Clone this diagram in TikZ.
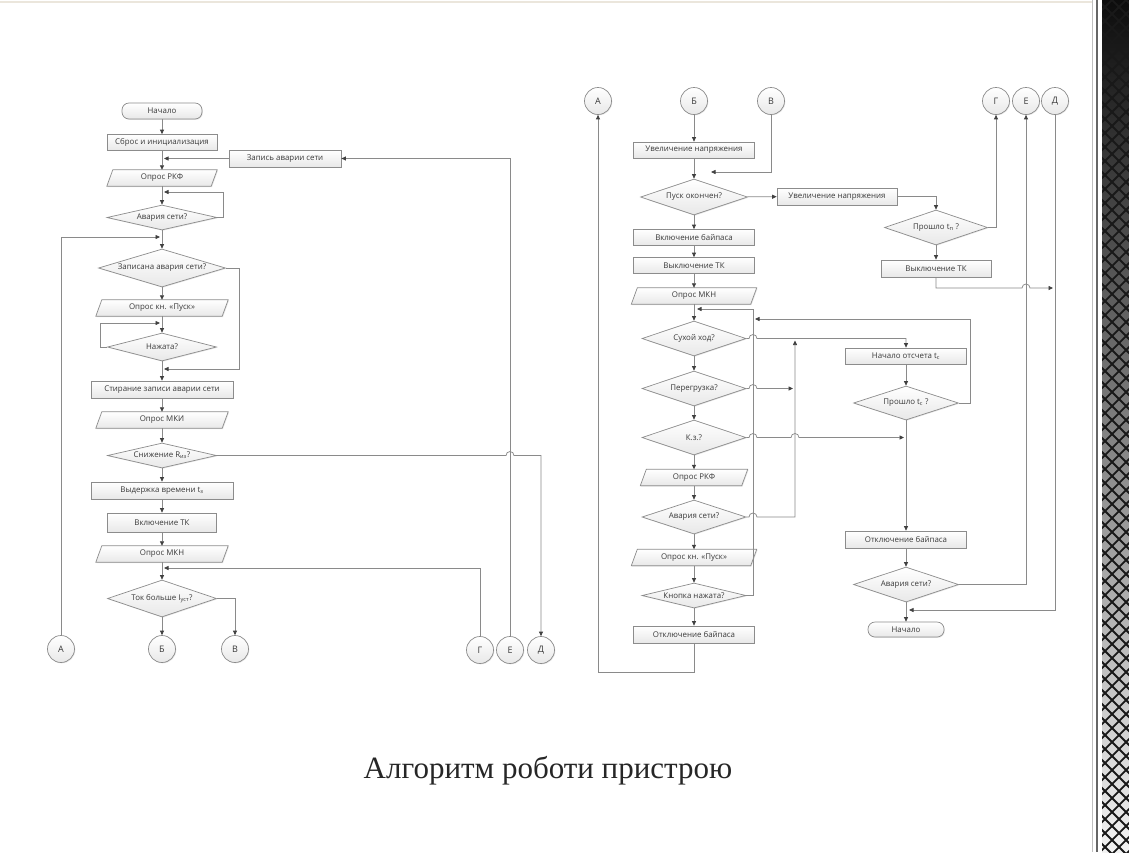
\documentclass[tikz,border=0pt]{standalone}
\usepackage{fontspec}
\setmainfont{Open Sans}
\newfontfamily\titlefont{Liberation Serif}
\usetikzlibrary{arrows.meta,shapes.geometric,shadows,calc}
\definecolor{lnc}{HTML}{8A8A8A}
\definecolor{txc}{HTML}{3A3A3A}
\definecolor{bdc}{HTML}{8C8C8C}
\newcommand\boxfont{\fontsize{7.9}{9}\selectfont}
\tikzset{
  base/.style={draw=bdc, line width=0.7pt, top color=white, bottom color=black!9, text=txc, font=\boxfont, inner sep=0pt,
    drop shadow={shadow xshift=0.8pt,shadow yshift=-0.8pt,opacity=0.2}},
  procbox/.style={base, rectangle},
  termbox/.style={base, rectangle, rounded corners=7pt},
  decbox/.style={base, diamond},
  circ/.style={base, circle, minimum size=27pt, font=\fontsize{9}{10}\selectfont},
  lnk/.style={draw=lnc, line width=0.75pt},
  arr/.style={lnk, -{Triangle[length=4.5pt,width=4pt,color=black!75]}},
}
\newcommand\ioshape[5]{%
  \path (#2,#3) node[minimum width=#4, minimum height=16, inner sep=0pt, draw=none] (#1) {};
  \draw[base] ([xshift=3]#1.north west) -- ([xshift=3]#1.north east) -- ([xshift=-3]#1.south east) -- ([xshift=-3]#1.south west) -- cycle;
  \node[text=txc, font=\boxfont, inner sep=0pt] (#1t) at (#1) {#5};
}
\newcommand\mb[1]{\makebox[0pt]{#1}}
\begin{document}
\begin{tikzpicture}[x=1pt,y=-1pt]
\useasboundingbox (0,0) rectangle (1129,852);
\fill[white] (0,0) rectangle (1129,852);
\draw[color={rgb,255:red,235;green,230;blue,220}, line width=1.5] (0,2) -- (1092,2);
% right decorative strip
\fill[black!25] (1092,0) rectangle (1093.3,852);
\fill[black!60] (1095.5,0) rectangle (1098,852);
\begin{scope}
\clip (1102,0) rectangle (1129,852);
\shade[top color=black!95, middle color=black!70, bottom color=black!5] (1102,0) rectangle (1129,852);
\foreach \k in {-4,...,64} {
  \draw[black!90, line width=1.8] (1098,\k*14) -- ++(36,36);
  \draw[black!90, line width=1.8] (1098,\k*14) -- ++(36,-36);
}
\end{scope}

% ================= LEFT CHART =================
\node[termbox, minimum width=80, minimum height=16] (L0) at (162,111) {\mb{Начало}};
\node[procbox, minimum width=110, minimum height=16] (L1) at (162,142.5) {\mb{Сброс и инициализация}};
\node[procbox, minimum width=112, minimum height=17] (Lz) at (285,158.5) {\mb{Запись аварии сети}};
\ioshape{L2}{162}{178}{104}{Опрос РКФ}
\node[decbox, minimum width=110, minimum height=25] (L3) at (162,217.5) {\mb{Авария сети?}};
\node[decbox, minimum width=127, minimum height=38] (L4) at (162,268) {\mb{Записана авария сети?}};
\ioshape{L5}{162}{308}{126}{Опрос кн. «Пуск»}
\node[decbox, minimum width=109, minimum height=28] (L6) at (162,347) {\mb{Нажата?}};
\node[procbox, minimum width=142, minimum height=17] (L7) at (162,389.5) {\mb{Стирание записи аварии сети}};
\ioshape{L8}{162}{420}{126}{Опрос МКИ}
\node[decbox, minimum width=109, minimum height=25] (L9) at (162,455.5) {\mb{Снижение R\textsubscript{из}?}};
\node[procbox, minimum width=142, minimum height=17] (L10) at (162,490.5) {\mb{Выдержка времени t\textsubscript{з}}};
\node[procbox, minimum width=109, minimum height=19] (L11) at (162,522.5) {\mb{Включение ТК}};
\ioshape{L12}{162}{554}{126}{Опрос МКН}
\node[decbox, minimum width=109, minimum height=37] (L13) at (162,598.5) {\mb{Ток больше I\textsubscript{уст}?}};
\node[circ] (cA) at (61,649) {А};
\node[circ] (cB) at (162,649) {Б};
\node[circ] (cV) at (235,649) {В};
\node[circ] (cG) at (480,650) {Г};
\node[circ] (cE) at (510,650) {Е};
\node[circ] (cD) at (541,650) {Д};

\coordinate (jz) at (164,158.5);
\coordinate (j3) at (164,192);
\coordinate (jA) at (160,237);
\coordinate (j4) at (164,369);
\coordinate (j6) at (160,323);
\coordinate (jG) at (164,568);

\draw[arr] (L0) -- (L1);
\draw[arr] (L1) -- (L2);
\draw[arr] (L2) -- (L3);
\draw[arr] (L3) -- (L4);
\draw[arr] (L4) -- (L5);
\draw[arr] (L5) -- (L6);
\draw[arr] (L6) -- (L7);
\draw[arr] (L7) -- (L8);
\draw[arr] (L8) -- (L9);
\draw[arr] (L9) -- (L10);
\draw[arr] (L10) -- (L11);
\draw[arr] (L11) -- (L12);
\draw[arr] (L12) -- (L13);
\draw[arr] (L13) -- (cB);
\draw[arr] (L13.east) -| (cV.north);
\draw[arr] (Lz.west) -- (jz);
\draw[arr] (cE.north) |- (Lz.east);
\draw[arr] (L3.east) -- ++(6,0) |- (j3);
\draw[arr] (cA.north) |- (jA);
\draw[arr] (L4.east) -- ++(14,0) |- (j4);
\draw[arr] (L6.west) -- ++(-7,0) |- (j6);
\draw[arr] (L9.east) -- (506,455.5) arc[start angle=180,end angle=360,radius=4] -| (cD.north);
\draw[arr] (cG.north) |- (jG);

% ================= RIGHT CHART =================
\node[circ] (rA) at (598,101) {А};
\node[circ] (rB) at (694,101) {Б};
\node[circ] (rV) at (771,101) {В};
\node[circ] (rG) at (996,101) {Г};
\node[circ] (rE) at (1026,101) {Е};
\node[circ] (rD) at (1055,101) {Д};

\node[procbox, minimum width=121, minimum height=16] (R1) at (694,150) {\mb{Увеличение напряжения}};
\node[decbox, minimum width=107, minimum height=36] (R2) at (694,197) {\mb{Пуск окончен?}};
\node[procbox, minimum width=120, minimum height=17] (R3) at (837,196.5) {\mb{Увеличение напряжения}};
\node[decbox, minimum width=103, minimum height=35] (R4) at (936,227.5) {\mb{Прошло t\textsubscript{п} ?}};
\node[procbox, minimum width=110, minimum height=17] (R5) at (936,268.5) {\mb{Выключение ТК}};
\node[procbox, minimum width=121, minimum height=16] (R6) at (694,237.5) {\mb{Включение байпаса}};
\node[procbox, minimum width=121, minimum height=16] (R7) at (694,265.5) {\mb{Выключение ТК}};
\ioshape{R8}{694}{296}{119}{Опрос МКН}
\node[decbox, minimum width=104, minimum height=35] (R9) at (694,338.5) {\mb{Сухой ход?}};
\node[decbox, minimum width=104, minimum height=35] (R10) at (694,388.5) {\mb{Перегрузка?}};
\node[decbox, minimum width=104, minimum height=35] (R11) at (694,437.5) {\mb{К.з.?}};
\ioshape{R12}{694}{477.5}{101}{Опрос РКФ}
\node[decbox, minimum width=104, minimum height=34] (R13) at (694,517) {\mb{Авария сети?}};
\ioshape{R14}{694}{557.5}{119}{Опрос кн. «Пуск»}
\node[decbox, minimum width=104, minimum height=25] (R15) at (694,595.5) {\mb{Кнопка нажата?}};
\node[procbox, minimum width=121, minimum height=17] (R16) at (694,634.5) {\mb{Отключение байпаса}};
\node[procbox, minimum width=121, minimum height=16] (R17) at (906,356) {\mb{Начало отсчета t\textsubscript{с}}};
\node[decbox, minimum width=105, minimum height=34] (R18) at (906,403) {\mb{Прошло t\textsubscript{с} ?}};
\node[procbox, minimum width=121, minimum height=17] (R19) at (906,539.5) {\mb{Отключение байпаса}};
\node[decbox, minimum width=105, minimum height=35] (R20) at (906,584.5) {\mb{Авария сети?}};
\node[termbox, minimum width=76, minimum height=15] (R21) at (906,629.5) {\mb{Начало}};

\coordinate (kV) at (711,172);
\coordinate (kD) at (909,610);
\coordinate (k15) at (697,309);
\coordinate (k18) at (755,319);
\coordinate (k10) at (793,388.5);
\coordinate (k11) at (904,437.5);
\coordinate (k13) at (795,340.5);
\coordinate (k5) at (1053,288);

\draw[arr] (rB) -- (R1);
\draw[arr] (rV.south) |- (kV);
\draw[arr] (R1) -- (R2);
\draw[arr] (R2) -- (R3);
\draw[arr] (R3.east) -| (R4.north);
\draw[arr] (R4.east) -| (rG.south);
\draw[arr] (R4) -- (R5);
\draw[arr] (R5.south) |- (1022,288) arc[start angle=180,end angle=360,radius=4] -- (k5);
\draw[arr] (rD.south) |- (kD);
\draw[arr] (R20.east) -| (rE.south);
\draw[arr] (R2) -- (R6);
\draw[arr] (R6) -- (R7);
\draw[arr] (R7) -- (R8);
\draw[arr] (R8) -- (R9);
\draw[arr] (R9) -- (R10);
\draw[arr] (R10) -- (R11);
\draw[arr] (R11) -- (R12);
\draw[arr] (R12) -- (R13);
\draw[arr] (R13) -- (R14);
\draw[arr] (R14) -- (R15);
\draw[arr] (R15) -- (R16);
\draw[arr] (R16.south) -- ++(0,29.5) -| (rA.south);
\draw[arr] (R15.east) -| (753,309) -- (k15);
\draw[arr] (R18.east) -- ++(12,0) |- (k18);
\draw[arr] (R9.east) -- (749,338.5) arc[start angle=180,end angle=360,radius=4] -| (R17.north);
\draw[arr] (R10.east) -- (749,388.5) arc[start angle=180,end angle=360,radius=4] -- (k10);
\draw[arr] (R11.east) -- (749,437.5) arc[start angle=180,end angle=360,radius=4] -- (791,437.5) arc[start angle=180,end angle=360,radius=4] -- (k11);
\draw[arr] (R13.east) -- (749,517) arc[start angle=180,end angle=360,radius=4] -| (k13);
\draw[arr] (R17) -- (R18);
\draw[arr] (R18) -- (R19);
\draw[arr] (R19) -- (R20);
\draw[arr] (R20) -- (R21);

\node[font=\titlefont\fontsize{31}{36}\selectfont, text=black!85] (title) at (548,771) {Алгоритм роботи пристрою};
\end{tikzpicture}
\end{document}
